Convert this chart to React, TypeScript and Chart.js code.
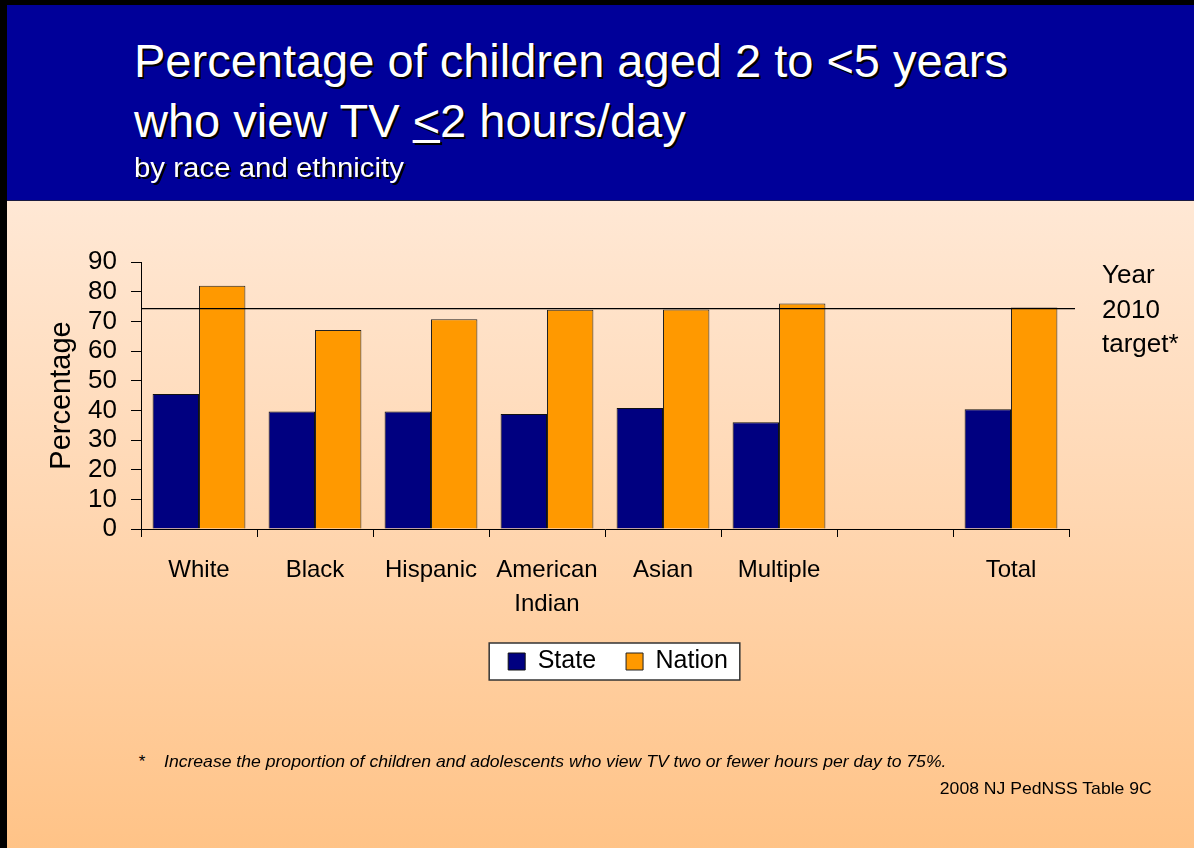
import React, { useEffect, useRef } from 'react';
import { Chart, registerables } from 'chart.js';

Chart.register(...registerables);

// ---- data ----
const categories: (string | string[])[] = ['White', 'Black', 'Hispanic', ['American', 'Indian'], 'Asian', 'Multiple', '', 'Total'];
const stateValues: (number | null)[] = [45.5, 39.6, 39.6, 38.8, 40.8, 36.0, null, 40.4];
const nationValues: (number | null)[] = [82.0, 67.1, 70.7, 73.9, 74.0, 76.0, null, 74.7];
const seriesNames = ['State', 'Nation'];
const targetValue = 74.3;
const targetLabelLines = ['Year', '2010', 'target*'];
const yMin = 0;
const yMax = 90;
const yStep = 10;
const yAxisTitle = 'Percentage';

const FONT = '"Liberation Sans", Arial, sans-serif';
const STATE_COLOR = '#000080';
const NATION_COLOR = '#FF9900';

const targetPlugin = {
  id: 'targetLine',
  afterDatasetsDraw(chart: any) {
    const { ctx, chartArea, scales } = chart;
    const y = scales.y.getPixelForValue(targetValue);
    ctx.save();
    ctx.strokeStyle = '#000';
    ctx.lineWidth = 1.3;
    ctx.beginPath();
    ctx.moveTo(chartArea.left, y);
    ctx.lineTo(chartArea.right + 6, y);
    ctx.stroke();
    ctx.fillStyle = '#000';
    ctx.font = `26px ${FONT}`;
    ctx.textAlign = 'left';
    ctx.textBaseline = 'alphabetic';
    const offsets = [-26, 9, 43];
    targetLabelLines.forEach((t, i) => {
      ctx.fillText(t, chartArea.right + 33, y + offsets[i]);
    });
    ctx.restore();
  },
};

const legendShiftPlugin = {
  id: 'legendShift',
  afterLayout(chart: any) {
    const lg = chart.legend;
    if (lg) {
      lg.left += 13;
      lg.right += 13;
    }
  },
};

const legendFramePlugin = {
  id: 'legendFrame',
  beforeDraw(chart: any) {
    const lg = chart.legend;
    if (!lg || !lg.legendHitBoxes || !lg.legendHitBoxes.length) return;
    const hb = lg.legendHitBoxes;
    const first = hb[0];
    const last = hb[hb.length - 1];
    const cy = first.top + first.height / 2;
    const x0 = first.left - 19;
    const x1 = last.left + last.width + 12;
    const { ctx } = chart;
    ctx.save();
    ctx.fillStyle = '#fff';
    ctx.strokeStyle = '#333';
    ctx.lineWidth = 1.5;
    ctx.fillRect(x0, cy - 18.5, x1 - x0, 37);
    ctx.strokeRect(x0, cy - 18.5, x1 - x0, 37);
    ctx.restore();
  },
};

function BarChart() {
  const ref = useRef<HTMLCanvasElement>(null);
  useEffect(() => {
    if (!ref.current) return;
    const chart = new Chart(ref.current, {
      type: 'bar',
      data: {
        labels: categories as any,
        datasets: [
          {
            label: seriesNames[0],
            data: stateValues,
            backgroundColor: STATE_COLOR,
            borderColor: '#111',
            borderWidth: 1,
            categoryPercentage: 0.8,
            barPercentage: 1.0,
          },
          {
            label: seriesNames[1],
            data: nationValues,
            backgroundColor: NATION_COLOR,
            borderColor: '#222',
            borderWidth: 1,
            categoryPercentage: 0.8,
            barPercentage: 1.0,
          },
        ],
      },
      options: {
        animation: false,
        responsive: true,
        maintainAspectRatio: false,
        layout: { padding: { left: 43, right: 125, top: 62, bottom: 16 } },
        plugins: {
          tooltip: { enabled: false },
          legend: {
            display: true,
            position: 'bottom',
            fullSize: false,
            labels: {
              color: '#000',
              font: { family: FONT, size: 25 },
              boxWidth: 17,
              boxHeight: 17,
              padding: 30,
            },
          },
        },
        scales: {
          x: {
            afterFit(scale: any) {
              scale.height = 90;
            },
            grid: {
              display: true,
              offset: true,
              drawOnChartArea: false,
              drawTicks: true,
              tickLength: 8,
              color: '#000',
              tickColor: '#000',
            },
            border: { display: true, color: '#000', width: 1 },
            ticks: {
              color: '#000',
              font: { family: FONT, size: 24, lineHeight: 1.4 },
              padding: 17,
              maxRotation: 0,
              autoSkip: false,
            },
          },
          y: {
            min: yMin,
            max: yMax,
            afterFit(scale: any) {
              scale.width = 98;
            },
            grid: {
              display: true,
              drawOnChartArea: false,
              drawTicks: true,
              tickLength: 10,
              color: '#000',
              tickColor: '#000',
            },
            border: { display: true, color: '#000', width: 1 },
            ticks: {
              stepSize: yStep,
              autoSkip: false,
              color: '#000',
              font: { family: FONT, size: 26 },
              padding: 14,
            },
            title: {
              display: true,
              text: yAxisTitle,
              color: '#000',
              font: { family: FONT, size: 29 },
              padding: { top: 2, bottom: 2 },
            },
          },
        },
      },
      plugins: [legendShiftPlugin, legendFramePlugin, targetPlugin],
    } as any);
    return () => chart.destroy();
  }, []);
  return <canvas ref={ref} />;
}

export default function App() {
  const shadow = '2px 2px 0 #000';
  const stretch = (s: number, origin = 'left') => ({ transform: `scaleX(${s})`, transformOrigin: `${origin} top` });
  return (
    <div
      style={{
        position: 'absolute',
        left: 0,
        top: 0,
        width: 1194,
        height: 848,
        overflow: 'hidden',
        fontFamily: FONT,
        background: '#000',
      }}
    >
      {/* header */}
      <div
        style={{
          position: 'absolute',
          left: 7,
          top: 5,
          width: 1187,
          height: 195,
          background: '#000099',
          borderBottom: '1px solid #1a1a40',
        }}
      />
      {/* body gradient */}
      <div
        style={{
          position: 'absolute',
          left: 7,
          top: 201,
          width: 1187,
          height: 647,
          background: 'linear-gradient(to bottom, #FFE8D5 0%, #FFD6B0 50%, #FFC387 100%)',
        }}
      />
      <div
        style={{
          position: 'absolute',
          left: 134,
          top: 37,
          color: '#fff',
          fontSize: 47,
          lineHeight: '47px',
          whiteSpace: 'nowrap',
          textShadow: shadow,
        }}
      >
        Percentage of children aged 2 to &lt;5 years
      </div>
      <div
        style={{
          position: 'absolute',
          left: 134,
          top: 97,
          color: '#fff',
          fontSize: 47,
          lineHeight: '47px',
          whiteSpace: 'nowrap',
          textShadow: shadow,
        }}
      >
        who view TV{' '}
        <span style={{ textDecoration: 'underline', textDecorationThickness: 3, textUnderlineOffset: 3 }}>&lt;</span>
        2 hours/day
      </div>
      <div
        style={{
          position: 'absolute',
          left: 134,
          top: 155,
          color: '#fff',
          fontSize: 27,
          lineHeight: '27px',
          whiteSpace: 'nowrap',
          textShadow: shadow,
          ...stretch(1.09),
        }}
      >
        by race and ethnicity
      </div>
      {/* chart */}
      <div style={{ position: 'absolute', left: 0, top: 200, width: 1194, height: 500 }}>
        <BarChart />
      </div>
      {/* footnotes */}
      <div
        style={{
          position: 'absolute',
          left: 138,
          top: 753,
          fontSize: 17,
          lineHeight: '17px',
          fontStyle: 'italic',
          color: '#000',
          whiteSpace: 'nowrap',
        }}
      >
        *
      </div>
      <div
        style={{
          position: 'absolute',
          left: 164,
          top: 753,
          fontSize: 17,
          lineHeight: '17px',
          fontStyle: 'italic',
          color: '#000',
          whiteSpace: 'nowrap',
          ...stretch(1.035),
        }}
      >
        Increase the proportion of children and adolescents who view TV two or fewer hours per day to 75%.
      </div>
      <div
        style={{
          position: 'absolute',
          right: 42,
          top: 780,
          fontSize: 17,
          lineHeight: '17px',
          color: '#000',
          whiteSpace: 'nowrap',
          ...stretch(1.035, 'right'),
        }}
      >
        2008 NJ PedNSS Table 9C
      </div>
    </div>
  );
}
